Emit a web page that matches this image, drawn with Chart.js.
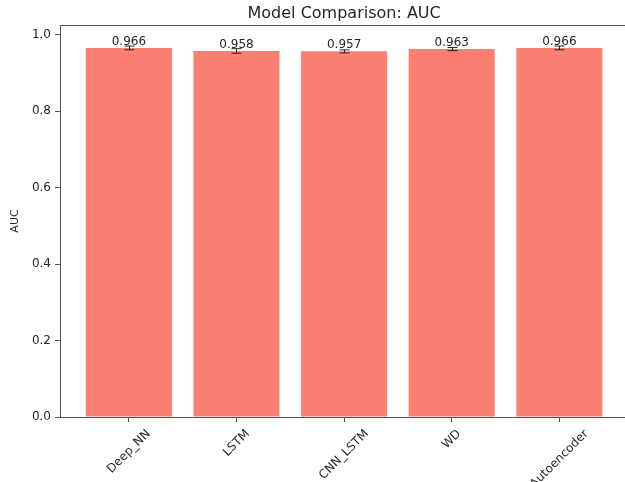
<!DOCTYPE html>
<html>
<head>
<meta charset="utf-8">
<script src="https://cdn.jsdelivr.net/npm/chart.js@4/dist/chart.umd.min.js"></script>
<style>
  html, body { margin: 0; padding: 0; background: #fff; }
  #wrap { width: 625px; height: 482px; }
</style>
</head>
<body>
<div id="wrap"><canvas id="aucChart" width="625" height="482"></canvas></div>
<script>
// model names and AUC scores
const models = ['Deep_NN', 'LSTM', 'CNN_LSTM', 'WD', 'Autoencoder'];
const aucValues = [0.966, 0.958, 0.957, 0.963, 0.966];
const aucErrors = [0.005, 0.006, 0.004, 0.004, 0.005];
const yTicks = [0.0, 0.2, 0.4, 0.6, 0.8, 1.0];

const barColor = '#FA8072';
const inkColor = '#262626';
const X_MIN = -0.64, X_FULL_MAX = 4.64, X_MAX = 4.61;

// error bars, value labels, x labels, title and top spine (matplotlib style)
const extrasPlugin = {
    id: 'extras',
    afterDatasetsDraw(chart) {
        const { ctx, chartArea, scales } = chart;
        const x = scales.x, y = scales.y;
        ctx.save();
        ctx.strokeStyle = inkColor;
        ctx.lineWidth = 1;
        aucValues.forEach((v, i) => {
            const px = Math.round(x.getPixelForValue(i)) + 0.5;
            const top = y.getPixelForValue(v + aucErrors[i]);
            const bot = y.getPixelForValue(v - aucErrors[i]);
            ctx.beginPath();
            ctx.moveTo(px, top); ctx.lineTo(px, bot);
            ctx.moveTo(px - 5, top); ctx.lineTo(px + 5, top);
            ctx.moveTo(px - 5, bot); ctx.lineTo(px + 5, bot);
            ctx.stroke();
        });
        ctx.fillStyle = inkColor;
        ctx.font = '12px "DejaVu Sans"';
        ctx.textAlign = 'center';
        ctx.textBaseline = 'bottom';
        aucValues.forEach((v, i) => {
            ctx.fillText(v.toFixed(3), x.getPixelForValue(i), y.getPixelForValue(v));
        });

        // rotated x labels, bounding box centred under the tick
        ctx.textBaseline = 'middle';
        const s45 = Math.SQRT1_2;
        models.forEach((m, i) => {
            const w = ctx.measureText(m).width;
            const h = 14;
            const half = (w + h) * s45 / 2;
            ctx.save();
            ctx.translate(x.getPixelForValue(i), chartArea.bottom + 10 + half);
            ctx.rotate(-Math.PI / 4);
            ctx.fillText(m, 0, 0);
            ctx.restore();
        });

        // title centred over the full (cropped) axes
        const midX = x.getPixelForValue((X_MIN + X_FULL_MAX) / 2);
        ctx.font = '16px "DejaVu Sans"';
        ctx.fillText('Model Comparison: AUC', midX, 14);

        // top spine
        ctx.strokeStyle = '#555';
        ctx.beginPath();
        ctx.moveTo(chartArea.left, Math.round(chartArea.top) + 0.5);
        ctx.lineTo(chartArea.right, Math.round(chartArea.top) + 0.5);
        ctx.stroke();
        ctx.restore();
    }
};

const ctx = document.getElementById('aucChart').getContext('2d');
new Chart(ctx, {
    type: 'bar',
    data: {
        datasets: [{
            label: 'AUC',
            data: aucValues.map((v, i) => ({ x: i, y: v })),
            backgroundColor: barColor,
            borderWidth: 0,
            barPercentage: 0.8,
            categoryPercentage: 1.0,
        }],
    },
    options: {
        responsive: false,
        animation: false,
        layout: { padding: { left: 0, right: 0, top: 25, bottom: 0 } },
        plugins: {
            legend: { display: false },
            tooltip: { enabled: false },
            title: { display: false },
        },
        scales: {
            x: {
                type: 'linear',
                min: X_MIN,
                max: X_MAX,
                offset: false,
                bounds: 'data',
                grid: {
                    offset: false,
                    drawOnChartArea: false,
                    tickLength: 5,
                    color: '#555',
                },
                border: { color: '#555', width: 1 },
                ticks: {
                    autoSkip: false,
                    maxRotation: 0,
                    callback: () => '',
                },
                afterBuildTicks: (s) => { s.ticks = models.map((m, i) => ({ value: i })); },
                afterFit: (s) => { s.height = 65; },
            },
            y: {
                min: 0,
                max: 1.026,
                bounds: 'data',
                grid: {
                    drawOnChartArea: false,
                    tickLength: 5,
                    color: '#555',
                },
                border: { color: '#555', width: 1 },
                ticks: {
                    color: inkColor,
                    font: { family: 'DejaVu Sans', size: 12 },
                    padding: 4,
                    callback: (val) => val.toFixed(1),
                },
                afterBuildTicks: (s) => { s.ticks = yTicks.map(v => ({ value: v })); },
                title: {
                    display: true,
                    text: 'AUC',
                    color: inkColor,
                    font: { family: 'DejaVu Sans', size: 11 },
                    padding: { top: 9, bottom: 6 },
                },
                afterFit: (s) => { s.width = 60; },
            },
        },
    },
    plugins: [extrasPlugin],
});
</script>
</body>
</html>
